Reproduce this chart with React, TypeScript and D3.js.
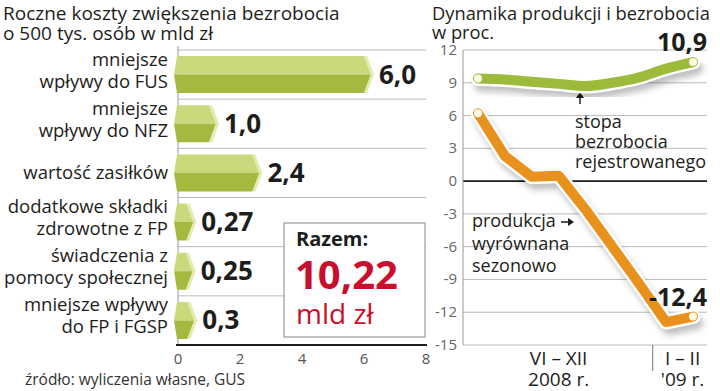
import React from "react";
import * as d3 from "d3";

// lewy wykres: roczne koszty (mld zł)
const categories = [
  ["mniejsze", "wpływy do FUS"],
  ["mniejsze", "wpływy do NFZ"],
  ["wartość zasiłków"],
  ["dodatkowe składki", "zdrowotne z FP"],
  ["świadczenia z", "pomocy społecznej"],
  ["mniejsze wpływy", "do FP i FGSP"],
];
const costs = [6.0, 1.0, 2.4, 0.27, 0.25, 0.3];
const costLabels = ["6,0", "1,0", "2,4", "0,27", "0,25", "0,3"];
const costTicks = [0, 2, 4, 6, 8];

// prawy wykres: dynamika w proc.
const months = ["VI", "VII", "VIII", "IX", "X", "XI", "XII", "I", "II"];
const unemployment = [9.4, 9.3, 9.1, 8.9, 8.7, 9.0, 9.5, 10.3, 10.9];
const production = [6.2, 2.3, 0.4, 0.5, -2.6, -6.0, -9.4, -12.9, -12.4];
const pctTicks = [12, 9, 6, 3, 0, -3, -6, -9, -12, -15];

const FONT = "'Open Sans', 'DejaVu Sans', sans-serif";
const DARK = "#1d1d1b";
const RED = "#c8102e";
const GREEN = "#9dbb3b";
const ORANGE = "#e8911c";

const Prism = ({ x0, x1, y, h }) => {
  const top = y, bot = y + h, mid = y + h / 2;
  const c = 7;
  return (
    <g>
      <polygon points={`${x0},${mid} ${x0 + 3},${top} ${x1},${top} ${x1 + c},${mid}`} fill="#c9da7c" />
      <polygon points={`${x0},${mid} ${x1 + c},${mid} ${x1},${bot} ${x0 + 3},${bot}`} fill="#a5b941" />
      <polygon points={`${x1},${top} ${x1 + 3},${top} ${x1 + c + 3},${mid} ${x1 + 3},${bot} ${x1},${bot} ${x1 + c},${mid}`} fill="#e2eab0" />
    </g>
  );
};

const App = () => {
  // ---- lewy
  const x = d3.scaleLinear().domain([0, 8]).range([178, 426]);
  const y = d3.scaleBand().domain(d3.range(categories.length)).range([50, 345]);
  const barH = 37;

  // ---- prawy
  const px = d3.scalePoint().domain(months).range([478, 693]);
  const py = d3.scaleLinear().domain([-15, 12]).range([345, 50]);
  const greenPath = d3.line().x((d, i) => px(months[i])).y(d => py(d)).curve(d3.curveMonotoneX)(unemployment);
  const orangePath = d3.line().x((d, i) => px(months[i])).y(d => py(d))(production);
  const sep = (px("XII") + px("I")) / 2;

  return (
    <svg width={720} height={391} style={{ position: "absolute", left: 0, top: 0, background: "#fff" }} fontFamily={FONT}>
      <defs>
        <filter id="shadow" x="-20%" y="-20%" width="140%" height="140%">
          <feGaussianBlur stdDeviation="3" />
        </filter>
      </defs>

      {/* tytuły */}
      <text x={3} y={20} fontSize={19} fill={DARK}>Roczne koszty zwiększenia bezrobocia</text>
      <text x={3} y={40} fontSize={19} fill={DARK}>o 500 tys. osób w mld zł</text>
      <text x={432} y={20} fontSize={18.3} fill={DARK}>Dynamika produkcji i bezrobocia</text>
      <text x={432} y={39} fontSize={18.3} fill={DARK}>w proc.</text>

      {/* lewy wykres */}
      {d3.range(categories.length).map(i => (
        <line key={i} x1={178} x2={426} y1={y(i)} y2={y(i)} stroke="#bbb" strokeWidth={1} />
      ))}
      <line x1={178} x2={178} y1={46} y2={345} stroke="#999" strokeWidth={1} />

      <rect x={284} y={223} width={141} height={114} fill="#fff" stroke="#888" strokeWidth={1} />
      <text x={296} y={246} fontSize={20} fontWeight="bold" fill={DARK}>Razem:</text>
      <text x={295} y={289} fontSize={40} fontWeight="bold" fill={RED}>10,22</text>
      <text x={296} y={324} fontSize={28} fill={RED}>mld zł</text>

      {costs.map((v, i) => {
        const cy = y(i) + y.bandwidth() / 2;
        const lines = categories[i];
        return (
          <g key={i}>
            <Prism x0={174} x1={x(v)} y={cy - barH / 2} h={barH} />
            <text x={x(v) + 15} y={cy + 9} fontSize={26} fontWeight="bold" fill={DARK}>{costLabels[i]}</text>
            {lines.length === 1 ? (
              <text x={168} y={cy + 6} fontSize={18.5} textAnchor="end" fill={DARK}>{lines[0]}</text>
            ) : (
              <>
                <text x={168} y={cy - 9} fontSize={18.5} textAnchor="end" fill={DARK}>{lines[0]}</text>
                <text x={168} y={cy + 13} fontSize={18.5} textAnchor="end" fill={DARK}>{lines[1]}</text>
              </>
            )}
          </g>
        );
      })}
      <line x1={176} x2={427} y1={345} y2={345} stroke={DARK} strokeWidth={2} />
      {costTicks.map(t => (
        <text key={t} x={x(t)} y={364} fontSize={15} textAnchor="middle" fill="#555">{t}</text>
      ))}
      <text x={25} y={385} fontSize={15.5} fill="#333">źródło: wyliczenia własne, GUS</text>

      {/* prawy wykres */}
      {pctTicks.map(t => (
        <g key={t}>
          <line x1={463} x2={707} y1={py(t)} y2={py(t)} stroke={t === 0 ? DARK : "#bbb"} strokeWidth={t === 0 ? 1.6 : 1} />
          <text x={457} y={py(t) + 5} fontSize={15} textAnchor="end" fill="#666">{t}</text>
        </g>
      ))}
      <line x1={463} x2={463} y1={50} y2={345} stroke="#999" strokeWidth={1} />
      <line x1={sep} x2={sep} y1={345} y2={371} stroke="#777" strokeWidth={1} />

      <text x={(px("VI") + px("XII")) / 2} y={365} fontSize={19} textAnchor="middle" fill={DARK}>VI – XII</text>
      <text x={(px("VI") + px("XII")) / 2} y={386} fontSize={19} textAnchor="middle" fill={DARK}>2008 r.</text>
      <text x={(px("I") + px("II")) / 2 + 3} y={365} fontSize={19} textAnchor="middle" fill={DARK}>I – II</text>
      <text x={(px("I") + px("II")) / 2 + 3} y={386} fontSize={19} textAnchor="middle" fill={DARK}>'09 r.</text>

      {/* adnotacje */}
      <line x1={580} x2={580} y1={104} y2={97} stroke={DARK} strokeWidth={1.5} />
      <polygon points="576,98 584,98 580,92" fill={DARK} />
      <text fontSize={18} fill={DARK}>
        <tspan x={575} y={128}>stopa</tspan>
        <tspan x={575} y={148}>bezrobocia</tspan>
        <tspan x={575} y={168}>rejestrowanego</tspan>
      </text>
      <text fontSize={18} fill={DARK}>
        <tspan x={472} y={227}>produkcja</tspan>
        <tspan x={472} y={250}>wyrównana</tspan>
        <tspan x={472} y={272}>sezonowo</tspan>
      </text>
      <line x1={561} x2={569} y1={222} y2={222} stroke={DARK} strokeWidth={1.5} />
      <polygon points="568,218 568,226 574,222" fill={DARK} />

      {/* linie */}
      {[greenPath, orangePath].map((p, i) => (
        <path key={"s" + i} d={p} transform="translate(3,6)" fill="none" stroke="#000" strokeOpacity={0.25}
          strokeWidth={14} strokeLinecap="round" strokeLinejoin="round" filter="url(#shadow)" />
      ))}
      {[[greenPath, GREEN], [orangePath, ORANGE]].map(([p, c], i) => (
        <g key={"l" + i}>
          <path d={p} fill="none" stroke="#fff" strokeWidth={15} strokeLinecap="round" strokeLinejoin="round" />
          <path d={p} fill="none" stroke={c} strokeWidth={10} strokeLinecap="round" strokeLinejoin="round" />
        </g>
      ))}
      {[unemployment, production].map((s, i) => (
        <g key={"c" + i}>
          <circle cx={px(months[0])} cy={py(s[0])} r={4} fill="#fffbe6" />
          <circle cx={px(months[months.length - 1])} cy={py(s[s.length - 1])} r={4} fill="#fffbe6" />
        </g>
      ))}

      <text x={707} y={51} fontSize={25} fontWeight="bold" textAnchor="end" fill={DARK}>10,9</text>
      <text x={707} y={306} fontSize={25} fontWeight="bold" textAnchor="end" fill={DARK}>-12,4</text>
    </svg>
  );
};

export default App;
